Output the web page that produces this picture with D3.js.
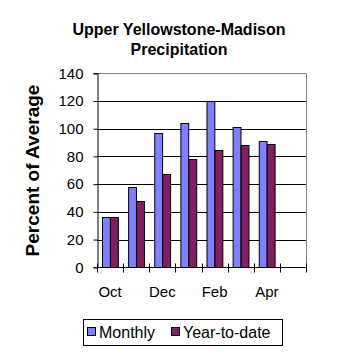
<!DOCTYPE html>
<html><head><meta charset="utf-8">
<script src="https://cdn.jsdelivr.net/npm/d3@7"></script>
<style>
body{margin:0;background:#fff;}
svg{display:block;font-family:Arial,"Liberation Sans",sans-serif;}
</style></head>
<body>
<script>
const categories = ["Oct","Nov","Dec","Jan","Feb","Mar","Apr","May"];
const monthly = [36, 58, 97, 104, 120, 101, 91, null];
const yearToDate = [36, 48, 67, 78, 85, 88, 89, null];
const seriesNames = ["Monthly", "Year-to-date"];
const seriesColors = ["#8080FF", "#802060"];
const yTicks = [0,20,40,60,80,100,120,140];
const xLabelShown = ["Oct","Dec","Feb","Apr"];

const W = 358, H = 358;
const m = {left:97, right:52, top:73.3, bottom:90.7};
const svg = d3.select("body").append("svg").attr("width", W).attr("height", H);

const x0 = d3.scaleBand().domain(categories).range([m.left, W - m.right]).padding(0);
const x1 = d3.scaleBand().domain(seriesNames).range([x0.bandwidth()*0.2, x0.bandwidth()*0.8]).padding(0);
const y = d3.scaleLinear().domain([0,140]).range([H - m.bottom, m.top]);

// gridlines
svg.append("g").selectAll("line").data(yTicks.filter(t => t>0 && t<140)).join("line")
  .attr("x1", m.left).attr("x2", W - m.right)
  .attr("y1", d => Math.round(y(d))+0.5).attr("y2", d => Math.round(y(d))+0.5)
  .attr("stroke", "#000").attr("stroke-width", 1);

// top and right border grey
svg.append("line").attr("x1", m.left).attr("x2", W-m.right)
  .attr("y1", Math.round(y(140))+0.5).attr("y2", Math.round(y(140))+0.5)
  .attr("stroke","#808080");
svg.append("line").attr("x1", Math.round(W-m.right)+0.5).attr("x2", Math.round(W-m.right)+0.5)
  .attr("y1", y(140)).attr("y2", y(0))
  .attr("stroke","#808080");

// bars
const data = categories.map((c,i) => ({cat:c, vals:[monthly[i], yearToDate[i]]}));
const groups = svg.append("g").selectAll("g").data(data).join("g")
  .attr("transform", d => `translate(${x0(d.cat)},0)`);
groups.selectAll("rect").data(d => d.vals.map((v,j) => ({v, s:seriesNames[j], j})).filter(e => e.v != null))
  .join("rect")
  .attr("x", d => Math.round(x1(d.s))+0.5)
  .attr("width", x1.bandwidth())
  .attr("y", d => Math.round(y(d.v))+0.5)
  .attr("height", d => Math.round(y(0)) - Math.round(y(d.v)))
  .attr("fill", d => seriesColors[d.j])
  .attr("stroke", "#000").attr("stroke-width", 1);

// y axis
const yAxis = d3.axisLeft(y).tickValues(yTicks).tickSize(4).tickPadding(10);
const gy = svg.append("g").attr("transform", `translate(${Math.round(m.left)+0.5},0)`).call(yAxis);
gy.select(".domain").attr("stroke","#000");
gy.selectAll(".tick line").attr("stroke","#000");
gy.selectAll("text").attr("font-size", 15).attr("fill","#000").attr("font-family","Arial, 'Liberation Sans', sans-serif");

// x axis
const gx = svg.append("g").attr("transform", `translate(0,${Math.round(y(0))+0.5})`);
gx.append("line").attr("x1", m.left).attr("x2", W-m.right).attr("stroke","#000");
const bounds = categories.map(c => x0(c)).concat([W - m.right]);
gx.selectAll("line.tk").data(bounds).join("line").attr("class","tk")
  .attr("x1", d => Math.round(d)+0.5).attr("x2", d => Math.round(d)+0.5)
  .attr("y1", -4).attr("y2", 5).attr("stroke","#000");
gx.selectAll("text").data(categories.filter(c => xLabelShown.includes(c))).join("text")
  .attr("x", d => x0(d) + x0.bandwidth()/2).attr("y", 29)
  .attr("text-anchor","middle").attr("font-size", 15).attr("fill","#000").text(d => d);

// title
svg.append("text").attr("x", 179).attr("y", 35).attr("text-anchor","middle")
  .attr("font-size", 16).attr("font-weight","bold").text("Upper Yellowstone-Madison");
svg.append("text").attr("x", 179).attr("y", 54.5).attr("text-anchor","middle")
  .attr("font-size", 16).attr("font-weight","bold").text("Precipitation");

// y label
svg.append("text").attr("transform", `translate(38.5,170.5) rotate(-90)`)
  .attr("text-anchor","middle").attr("font-size", 19).attr("font-weight","bold")
  .text("Percent of Average");

// legend
const lg = svg.append("g");
lg.append("rect").attr("x", 83.5).attr("y", 319.5).attr("width", 199).attr("height", 26)
  .attr("fill","#fff").attr("stroke","#000");
const legX = [87, 171];
seriesNames.forEach((s,i) => {
  lg.append("rect").attr("x", legX[i]+0.5).attr("y", 327.5).attr("width", 8).attr("height", 8)
    .attr("fill", seriesColors[i]).attr("stroke","#000");
  lg.append("text").attr("x", legX[i]+12).attr("y", 337.5).attr("font-size", 16).text(s);
});
</script>
</body></html>
